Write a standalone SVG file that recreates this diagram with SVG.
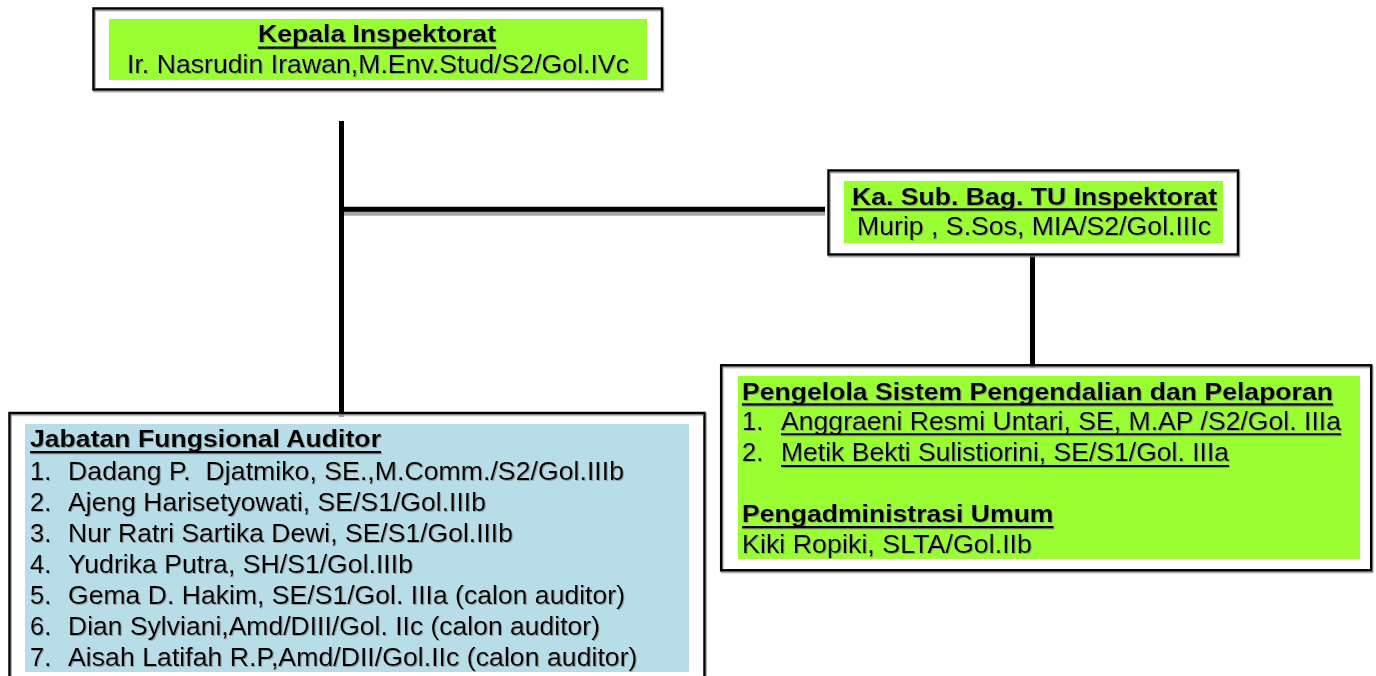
<svg xmlns="http://www.w3.org/2000/svg" width="1376" height="676" viewBox="0 0 1376 676">
  <defs>
    <filter id="tsh" x="-5%" y="-20%" width="110%" height="140%">
      <feDropShadow dx="1" dy="1" stdDeviation="0.4" flood-color="#808080" flood-opacity="0.7"/>
    </filter>
    <filter id="bsh" x="-5%" y="-5%" width="110%" height="110%">
      <feDropShadow dx="1" dy="1.5" stdDeviation="0.3" flood-color="#7f7f7f" flood-opacity="0.8"/>
    </filter>
  </defs>
  <style>
    .frame { fill: none; stroke: #000; stroke-width: 2.5; }
    .green { fill: #99FF33; }
    .blue { fill: #B7DDE8; }
    text { font-family: "Liberation Sans", Arial, sans-serif; fill: #000; }
    .t { font-size: 23px; font-weight: bold; }
    .b { font-size: 25.5px; }
    .ul { fill: #000; }
    .conn { stroke: #000; stroke-width: 5; fill: none; }
    .connsh { stroke: #a6a6a6; stroke-width: 5; fill: none; }
  </style>
  <rect width="1376" height="676" fill="#fff"/>

  <g id="connectors">
    <line class="connsh" x1="341.5" y1="125" x2="341.5" y2="417"/>
    <line class="connsh" x1="344" y1="213.2" x2="825" y2="213.2"/>
    <line class="connsh" x1="1032.5" y1="259" x2="1032.5" y2="368"/>
    <line class="conn" x1="341.5" y1="121" x2="341.5" y2="413"/>
    <line class="conn" x1="344" y1="209.2" x2="825" y2="209.2"/>
    <line class="conn" x1="1032.5" y1="255" x2="1032.5" y2="365"/>
  </g>

  <g id="kepala">
    <rect class="frame" x="93.5" y="8.5" width="568.5" height="81" filter="url(#bsh)"/>
    <rect class="green" x="109" y="19" width="538" height="61"/>
    <g filter="url(#tsh)">
      <text class="t" x="258" y="42" textLength="238" lengthAdjust="spacingAndGlyphs">Kepala Inspektorat</text>
      <rect class="ul" x="258" y="46.5" width="238" height="2.4"/>
      <text class="b" x="127" y="73" textLength="502" lengthAdjust="spacingAndGlyphs">Ir. Nasrudin Irawan,M.Env.Stud/S2/Gol.IVc</text>
    </g>
  </g>

  <g id="kasubbag">
    <rect class="frame" x="828.5" y="170.5" width="409.5" height="84" filter="url(#bsh)"/>
    <rect class="green" x="844" y="181" width="379" height="62"/>
    <g filter="url(#tsh)">
      <text class="t" x="852" y="205" textLength="365" lengthAdjust="spacingAndGlyphs">Ka. Sub. Bag. TU Inspektorat</text>
      <rect class="ul" x="851" y="208.3" width="366" height="2.4"/>
      <text class="b" x="857" y="235" textLength="354" lengthAdjust="spacingAndGlyphs">Murip , S.Sos, MIA/S2/Gol.IIIc</text>
    </g>
  </g>

  <g id="pengelola">
    <rect class="frame" x="721.2" y="365.3" width="650" height="205" filter="url(#bsh)"/>
    <rect class="green" x="738" y="376" width="622" height="183"/>
    <g filter="url(#tsh)">
      <text class="t" x="742" y="400" textLength="591" lengthAdjust="spacingAndGlyphs">Pengelola Sistem Pengendalian dan Pelaporan</text>
      <rect class="ul" x="742" y="403.3" width="591" height="2.4"/>
      <text class="b" x="742" y="430">1.</text>
      <text class="b" x="781" y="430" textLength="560" lengthAdjust="spacingAndGlyphs">Anggraeni Resmi Untari, SE, M.AP /S2/Gol. IIIa</text>
      <rect class="ul" x="781" y="433.3" width="560" height="2"/>
      <text class="b" x="742" y="461">2.</text>
      <text class="b" x="781" y="461" textLength="448" lengthAdjust="spacingAndGlyphs">Metik Bekti Sulistiorini, SE/S1/Gol. IIIa</text>
      <rect class="ul" x="781" y="465" width="448" height="2"/>
      <text class="t" x="742" y="522" textLength="311.5" lengthAdjust="spacingAndGlyphs">Pengadministrasi Umum</text>
      <rect class="ul" x="742" y="526" width="311.5" height="2.4"/>
      <text class="b" x="742" y="553" textLength="290" lengthAdjust="spacingAndGlyphs">Kiki Ropiki, SLTA/Gol.IIb</text>
    </g>
  </g>

  <g id="auditor">
    <rect class="frame" x="9.5" y="413" width="695" height="300" filter="url(#bsh)"/>
    <rect class="blue" x="25" y="424" width="664" height="248"/>
    <g filter="url(#tsh)">
      <text class="t" x="30" y="447" textLength="351" lengthAdjust="spacingAndGlyphs">Jabatan Fungsional Auditor</text>
      <rect class="ul" x="30" y="451" width="351" height="2.4"/>
      <text class="b" x="30" y="480">1.</text>
      <text class="b" x="68" y="480" xml:space="preserve" textLength="556" lengthAdjust="spacingAndGlyphs">Dadang P.  Djatmiko, SE.,M.Comm./S2/Gol.IIIb</text>
      <text class="b" x="30" y="511">2.</text>
      <text class="b" x="68" y="511" textLength="418" lengthAdjust="spacingAndGlyphs">Ajeng Harisetyowati, SE/S1/Gol.IIIb</text>
      <text class="b" x="30" y="542">3.</text>
      <text class="b" x="68" y="542" textLength="445" lengthAdjust="spacingAndGlyphs">Nur Ratri Sartika Dewi, SE/S1/Gol.IIIb</text>
      <text class="b" x="30" y="573">4.</text>
      <text class="b" x="68" y="573" textLength="345" lengthAdjust="spacingAndGlyphs">Yudrika Putra, SH/S1/Gol.IIIb</text>
      <text class="b" x="30" y="604">5.</text>
      <text class="b" x="68" y="604" textLength="557" lengthAdjust="spacingAndGlyphs">Gema D. Hakim, SE/S1/Gol. IIIa (calon auditor)</text>
      <text class="b" x="30" y="635">6.</text>
      <text class="b" x="68" y="635" textLength="532" lengthAdjust="spacingAndGlyphs">Dian Sylviani,Amd/DIII/Gol. IIc (calon auditor)</text>
      <text class="b" x="30" y="666">7.</text>
      <text class="b" x="68" y="666" textLength="569.5" lengthAdjust="spacingAndGlyphs">Aisah Latifah R.P,Amd/DII/Gol.IIc (calon auditor)</text>
    </g>
  </g>
</svg>
